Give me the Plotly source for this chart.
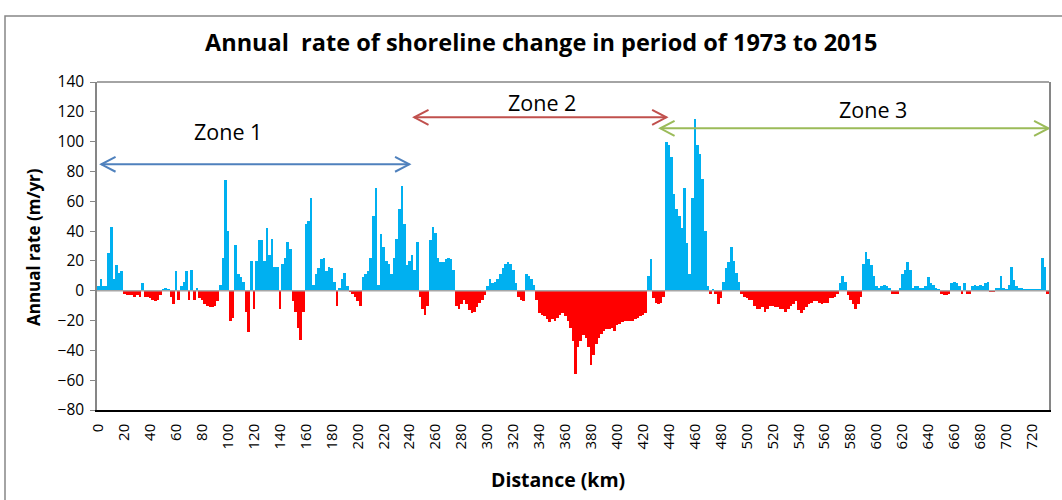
import plotly.graph_objects as go

# Distance along the coast (km), 2-km bins
distance_km = list(range(0, 734, 2))

# Annual rate of shoreline change (m/yr)
rate_m_per_yr = [
    3, 8, 3, 3, 25, 43, 8, 17, 12, 13,            # 0-18
    -2, -3, -3, -3, -4, -3, -4, 5, -4, -4,        # 20-38
    -5, -6, -7, -6, -3, 1, 2, 1, -4, -9,          # 40-58
    13, -6, 3, 6, 13, -6, 14, -6, 2, -5,          # 60-78
    -6, -9, -10, -11, -11, -10, -7, 4, 22, 74,    # 80-98
    40, -20, -18, 31, 11, 9, 6, -14, -28, 20,     # 100-118
    -12, 20, 34, 34, 20, 42, 24, 35, 16, 16,      # 120-138
    -12, 18, 22, 33, 28, -7, -14, -25, -33, -14,  # 140-158
    45, 47, 62, 4, 11, 15, 21, 22, 13, 16,        # 160-178
    15, 6, -10, 2, 8, 12, 3, -1, -2, -4,          # 180-198
    -7, -10, 9, 11, 13, 22, 50, 69, 4, 38,        # 200-218
    29, 20, 18, 11, 22, 35, 55, 70, 45, 17,       # 220-238
    20, 24, 14, 33, -4, -12, -16, -10, 34, 43,    # 240-258
    39, 22, 19, 19, 21, 22, 21, 14, -10, -12,     # 260-278
    -9, -6, -9, -13, -15, -14, -11, -8, -6, -3,   # 280-298
    3, 8, 5, 6, 8, 11, 15, 18, 19, 18,            # 300-318
    14, 5, -4, -6, -7, 11, 10, 8, 4, -6,          # 320-338
    -15, -16, -17, -19, -21, -19, -20, -18, -16, -15,  # 340-358
    -17, -20, -25, -34, -56, -38, -34, -30, -32, -38,  # 360-378
    -50, -43, -36, -32, -29, -27, -26, -26, -25, -27,  # 380-398
    -23, -22, -21, -20, -20, -20, -20, -19, -18, -17,  # 400-418
    -16, -15, 10, 21, -5, -8, -9, -8, -4, 100,    # 420-438
    98, 90, 65, 55, 50, 42, 69, 32, 11, 62,       # 440-458
    115, 98, 92, 75, 40, 3, -2, 1, -2, -9,        # 460-478
    -5, 6, 15, 19, 29, 20, 12, 6, -2, -4,         # 480-498
    -5, -6, -6, -10, -12, -12, -11, -14, -12, -10,  # 500-518
    -10, -11, -11, -12, -12, -14, -12, -10, -9, -7,  # 520-538
    -13, -15, -13, -11, -9, -8, -7, -7, -8, -9,   # 540-558
    -8, -8, -5, -5, -4, -2, 5, 10, 6, -3,         # 560-578
    -6, -9, -12, -9, -4, 18, 26, 21, 17, 10,      # 580-598
    3, 2, 3, 4, 3, 2, -2, -2, -2, 2,              # 600-618
    11, 14, 19, 14, 2, 3, 3, 2, 2, 3,             # 620-638
    9, 5, 4, 2, 1, -2, -3, -3, -2, 5,             # 640-658
    6, 5, 3, -2, 5, -2, -2, 3, 4, 3,              # 660-678
    4, 3, 5, 6, -1, -1, 2, 2, 10, 2,              # 680-698
    1, 4, 16, 7, 3, 2, 2, 1, 1, 1,                # 700-718
    1, 1, 1, 1, 22, 16, -2,                       # 720-732
]

x_tick_values = list(range(0, 721, 20))
y_tick_values = list(range(-80, 141, 20))

zone_labels = ["Zone 1", "Zone 2", "Zone 3"]
zone_start_km = [2.3, 243.6, 433.3]
zone_end_km = [239.8, 438, 732.5]
zone_arrow_rate = [84.8, 116.3, 108.9]
zone_label_km = [100, 342, 597]
zone_label_rate = [107, 126, 121.6]
zone_colors = ["#4F81BD", "#C0504D", "#9BBB59"]

POS_COLOR = "#00B0F0"
NEG_COLOR = "#FF0000"
FONT = "Open Sans"
HEAD_KM = 11.0     # arrow-head length along x (data units)
HEAD_RATE = 5.0    # arrow-head half-height (data units)

bar_colors = [POS_COLOR if v >= 0 else NEG_COLOR for v in rate_m_per_yr]

fig = go.Figure(
    go.Bar(
        x=distance_km,
        y=rate_m_per_yr,
        width=2,
        marker=dict(color=bar_colors, line=dict(width=0)),
        hovertemplate="%{x} km: %{y} m/yr<extra></extra>",
    )
)

W, H = 1062, 500
L, R, T, B = 97, 13, 82, 90
pw, ph = W - L - R, H - T - B


def px_x(p):
    return (p - L) / pw


def px_y(p):
    return (H - B - p) / ph


annotations = []
annotations.append(dict(
    text="<b>Annual  rate of shoreline change in period of 1973 to 2015</b>",
    x=px_x(541), y=px_y(42), xref="paper", yref="paper",
    xanchor="center", yanchor="middle", showarrow=False,
    font=dict(family=FONT, size=23.5, color="#000000"),
))
annotations.append(dict(
    text="<b>Annual rate (m/yr)</b>",
    x=px_x(33), y=px_y(247), xref="paper", yref="paper",
    xanchor="center", yanchor="middle", showarrow=False, textangle=-90,
    font=dict(family=FONT, size=17, color="#000000"),
))
annotations.append(dict(
    text="<b>Distance (km)</b>",
    x=px_x(558), y=px_y(479), xref="paper", yref="paper",
    xanchor="center", yanchor="middle", showarrow=False,
    font=dict(family=FONT, size=19.5, color="#000000"),
))

shapes = [
    dict(type="rect", xref="paper", yref="paper",
         x0=px_x(5), x1=px_x(1075), y0=px_y(515), y1=px_y(16),
         line=dict(color="#868686", width=1.5), layer="below"),
    dict(type="line", xref="paper", yref="paper", x0=0, x1=1, y0=1, y1=1,
         line=dict(color="#868686", width=1.5)),
    dict(type="line", xref="paper", yref="y", x0=0, x1=1, y0=0, y1=0,
         line=dict(color="#A6A6A6", width=1.5), layer="above"),
]

for lab, s, e, ya, lx, ly, c in zip(zone_labels, zone_start_km, zone_end_km,
                                     zone_arrow_rate, zone_label_km,
                                     zone_label_rate, zone_colors):
    ln = dict(color=c, width=2)
    shapes.append(dict(type="line", xref="x", yref="y", x0=s, x1=e, y0=ya, y1=ya, line=ln))
    shapes.append(dict(type="path", xref="x", yref="y", line=ln,
                       path=f"M {e - HEAD_KM},{ya + HEAD_RATE} L {e},{ya} L {e - HEAD_KM},{ya - HEAD_RATE}"))
    shapes.append(dict(type="path", xref="x", yref="y", line=ln,
                       path=f"M {s + HEAD_KM},{ya + HEAD_RATE} L {s},{ya} L {s + HEAD_KM},{ya - HEAD_RATE}"))
    annotations.append(dict(
        text=lab, x=lx, y=ly, xref="x", yref="y", showarrow=False,
        xanchor="center", yanchor="middle",
        font=dict(family=FONT, size=21.5, color="#000000"),
    ))

fig.update_layout(
    width=W, height=H,
    margin=dict(l=L, r=R, t=T, b=B, pad=0),
    paper_bgcolor="white", plot_bgcolor="white",
    showlegend=False, bargap=0,
    font=dict(family=FONT, size=14, color="#000000"),
    annotations=annotations, shapes=shapes,
    xaxis=dict(
        range=[-1, 733], tickvals=x_tick_values, ticktext=[str(v) for v in x_tick_values],
        tickangle=-90, ticks="", showgrid=False, zeroline=False,
        showline=True, linecolor="#000000", linewidth=1.5,
        tickfont=dict(family=FONT, size=15), ticklabelstandoff=6,
    ),
    yaxis=dict(
        range=[-80, 140], tickvals=y_tick_values, ticks="outside", ticklen=5,
        tickcolor="#868686", showgrid=False, zeroline=False,
        showline=True, linecolor="#868686", linewidth=1.5, mirror=True,
        tickfont=dict(family=FONT, size=15.5), ticklabelstandoff=3,
    ),
)

fig.write_html("out.html", config={"displayModeBar": False},
               post_script="document.body.style.margin='0';")
